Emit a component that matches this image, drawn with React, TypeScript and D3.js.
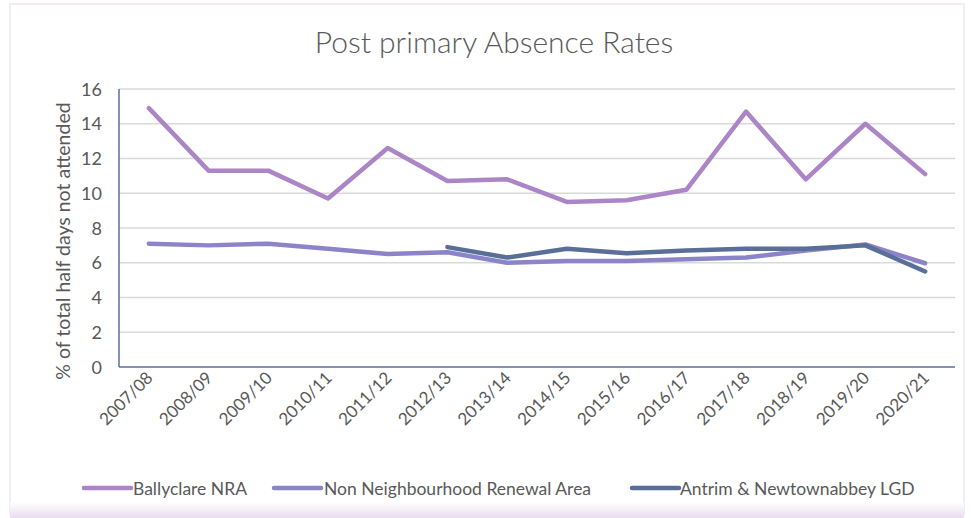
import React from "react";
import * as d3 from "d3";

const categories = ["2007/08","2008/09","2009/10","2010/11","2011/12","2012/13","2013/14","2014/15","2015/16","2016/17","2017/18","2018/19","2019/20","2020/21"];
const ballyclare: (number|null)[] = [14.9, 11.3, 11.3, 9.7, 12.6, 10.7, 10.8, 9.5, 9.6, 10.2, 14.7, 10.8, 14.0, 11.1];
const nonNRA: (number|null)[] = [7.1, 7.0, 7.1, 6.8, 6.5, 6.6, 6.0, 6.1, 6.1, 6.2, 6.3, 6.7, 7.05, 5.97];
const lgd: (number|null)[] = [null, null, null, null, null, 6.9, 6.3, 6.8, 6.55, 6.7, 6.8, 6.8, 7.0, 5.5];
const yTicks = [0, 2, 4, 6, 8, 10, 12, 14, 16];

const series = [
  { name: "Ballyclare NRA", values: ballyclare, color: "#AC85C7" },
  { name: "Non Neighbourhood Renewal Area", values: nonNRA, color: "#8B84C9" },
  { name: "Antrim & Newtownabbey LGD", values: lgd, color: "#5A6F97" },
];

const W = 971, H = 518;
const left = 119, right = 955, top = 89, bottom = 367;
const font = "Lato, 'Open Sans', sans-serif";

export default function App() {
  const x = d3.scaleBand<string>().domain(categories).range([left, right]);
  const y = d3.scaleLinear().domain([0, 16]).range([bottom, top]);
  const line = d3.line<number|null>()
    .defined(d => d !== null)
    .x((_, i) => (x(categories[i]) as number) + x.bandwidth() / 2)
    .y(d => y(d as number));

  const legendItems = [
    { lx: 84, tx: 133 },
    { lx: 274, tx: 324 },
    { lx: 632, tx: 680 },
  ];

  return (
    <svg width={W} height={H} style={{ position: "absolute", left: 0, top: 0, display: "block" }}>
      <defs>
        <linearGradient id="bot" x1="0" x2="0" y1="0" y2="1">
          <stop offset="0" stopColor="#ffffff" />
          <stop offset="1" stopColor="#e9dcf1" />
        </linearGradient>
      </defs>
      <rect x={0} y={0} width={W} height={H} fill="#ffffff" />
      <rect x={10} y={4} width={954} height={510} fill="#ffffff" stroke="#eee6f3" strokeWidth={1.5} />
      <rect x={10} y={502} width={954} height={16} fill="url(#bot)" />
      <text x={494} y={53} textAnchor="middle" fontFamily={font} fontSize={30} fontWeight={300} fill="#595959">Post primary Absence Rates</text>
      {yTicks.map(t => (
        <g key={t}>
          {t > 0 && <line x1={left} x2={right} y1={y(t)} y2={y(t)} stroke="#d9d9d9" strokeWidth={1.5} />}
          <text x={102} y={y(t) + 6.5} textAnchor="end" fontFamily={font} fontSize={18} fill="#595959">{t}</text>
        </g>
      ))}
      <line x1={left} x2={right} y1={bottom} y2={bottom} stroke="#5A6F97" strokeWidth={1.5} />
      <line x1={left} x2={left} y1={top} y2={bottom} stroke="#5A6F97" strokeWidth={1.5} />
      <text transform={`translate(70,241) rotate(-90)`} textAnchor="middle" fontFamily={font} fontSize={19.5} fill="#595959">% of total half days not attended</text>
      {categories.map(c => {
        const cx = (x(c) as number) + x.bandwidth() / 2;
        return (
          <text key={c} transform={`translate(${cx + 5},${bottom + 12}) rotate(-45)`} textAnchor="end" fontFamily={font} fontSize={17} fill="#595959">{c}</text>
        );
      })}
      {series.map(s => (
        <path key={s.name} d={line(s.values) || ""} fill="none" stroke={s.color} strokeWidth={4.5} strokeLinejoin="round" strokeLinecap="round" />
      ))}
      {series.map((s, i) => (
        <g key={s.name}>
          <line x1={legendItems[i].lx} x2={legendItems[i].lx + 47} y1={488} y2={488} stroke={s.color} strokeWidth={4.5} strokeLinecap="round" />
          <text x={legendItems[i].tx} y={494.5} fontFamily={font} fontSize={17.5} fill="#595959">{s.name}</text>
        </g>
      ))}
    </svg>
  );
}
